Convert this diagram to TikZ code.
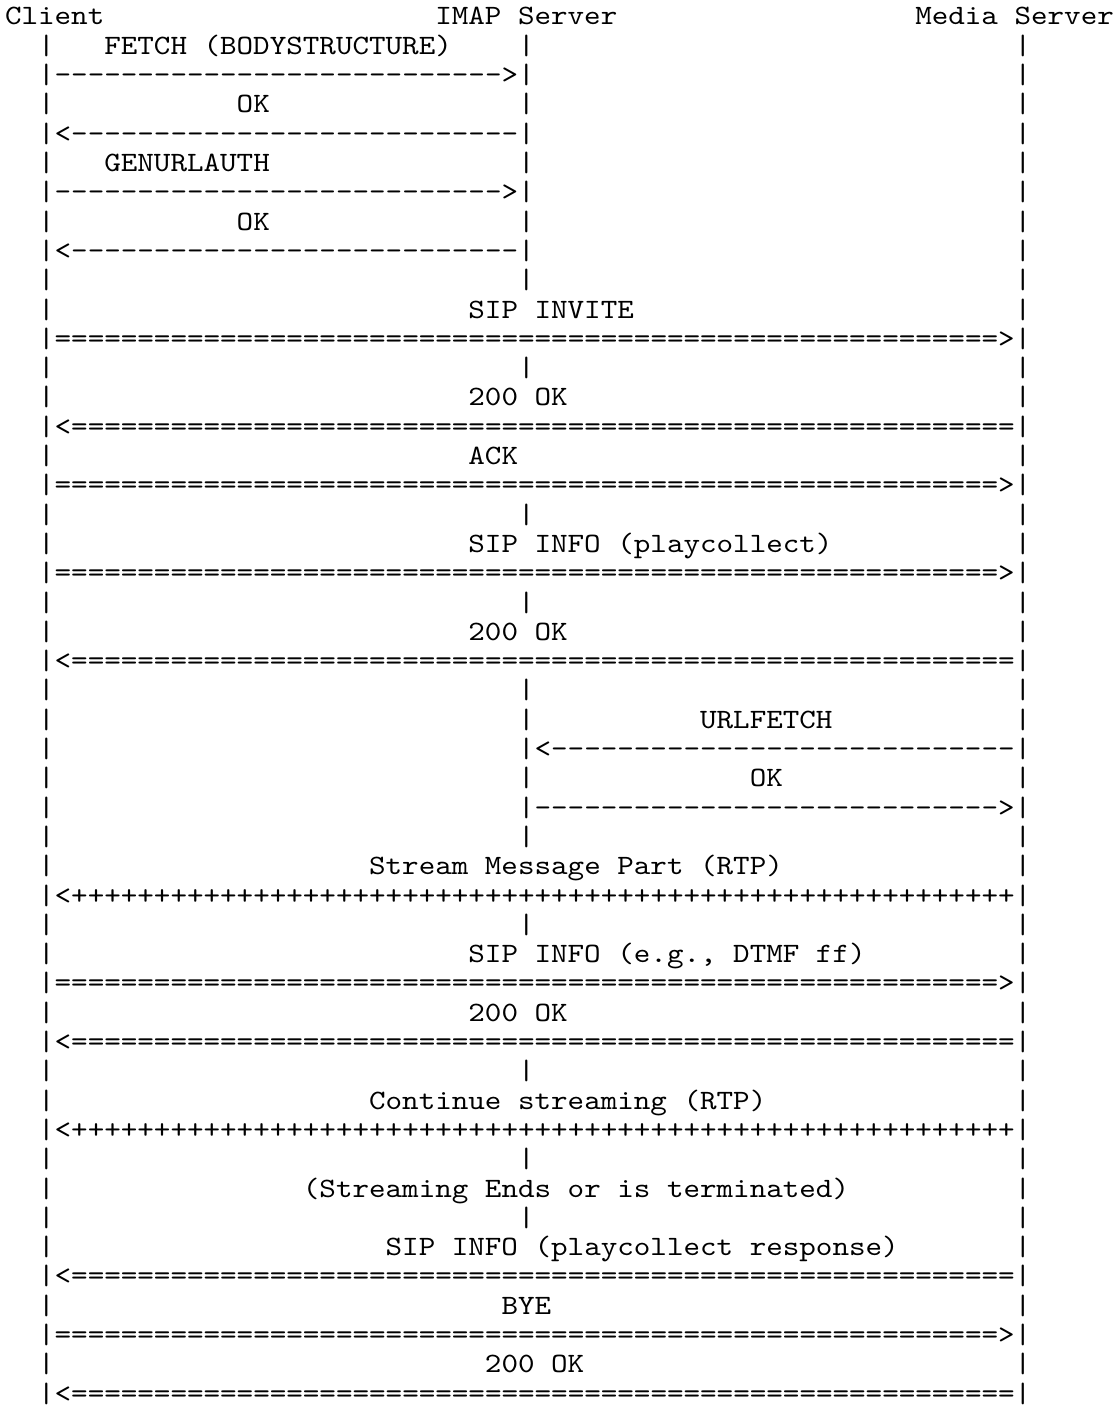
\documentclass[tikz,border=0pt]{standalone}
\usepackage{fontspec}
\setmonofont{lmmono10-regular.otf}[FakeStretch=1.126]
\usepackage{tikz}

%% repeat a character n times
\newcommand\dupl[2]{\ifnum#1>0 #2\expandafter\dupl\expandafter{\the\numexpr#1-1\relax}{#2}\fi}

\def\xo{5}
\def\cw{16.55}
\def\yo{25}
\def\lh{29.3}

\tikzset{
  cell/.style={font=\ttfamily\fontsize{14pt}{16pt}\selectfont, anchor=base west,
    inner sep=0pt, outer sep=0pt, text=black},
}

\begin{document}
\begin{tikzpicture}[x=0.5pt, y=-0.5pt]

  \fill[white] (0,0) rectangle (1116,1407);

  %% Header row
  \foreach \cc/\nm/\txt in {0/client/Client, 26/imap/{IMAP Server}, 55/media/{Media Server}} {
    \node[cell] (hd-\nm) at ({\xo+\cc*\cw},\yo) {\txt};
  }

  %% Lifelines, one bar per text row
  \foreach \rw in {1,...,47} {
    \node[cell] (cl-\rw) at ({\xo+2*\cw},{\yo+\rw*\lh}) {|};
    \node[cell] (ms-\rw) at ({\xo+61*\cw},{\yo+\rw*\lh}) {|};
  }
  \foreach \rw in {1,...,9,12,17,20,23,24,25,26,27,28,31,36,39,41} {
    \node[cell] (im-\rw) at ({\xo+31*\cw},{\yo+\rw*\lh}) {|};
  }

  %% Message labels
  \foreach \rw/\cc/\txt in {
    1/6/{FETCH (BODYSTRUCTURE)},
    3/14/OK,
    5/6/GENURLAUTH,
    7/14/OK,
    10/28/{SIP INVITE},
    13/28/{200 OK},
    15/28/ACK,
    18/28/{SIP INFO (playcollect)},
    21/28/{200 OK},
    24/42/URLFETCH,
    26/45/OK,
    29/22/{Stream Message Part (RTP)},
    32/28/{SIP INFO (e.g., DTMF ff)},
    34/28/{200 OK},
    37/22/{Continue streaming (RTP)},
    40/18/{(Streaming Ends or is terminated)},
    42/23/{SIP INFO (playcollect response)},
    44/30/BYE,
    46/29/{200 OK}
  } {
    \node[cell] (lbl-\rw) at ({\xo+\cc*\cw},{\yo+\rw*\lh}) {\txt};
  }

  %% Arrows, set from the bar they start at
  \foreach \rw/\src/\txt in {
    2/cl/{\dupl{27}{-}>},
    4/cl/{<\dupl{27}{-}},
    6/cl/{\dupl{27}{-}>},
    8/cl/{<\dupl{27}{-}},
    11/cl/{\dupl{57}{=}>},
    14/cl/{<\dupl{57}{=}},
    16/cl/{\dupl{57}{=}>},
    19/cl/{\dupl{57}{=}>},
    22/cl/{<\dupl{57}{=}},
    25/im/{<\dupl{28}{-}},
    27/im/{\dupl{28}{-}>},
    30/cl/{<\dupl{57}{+}},
    33/cl/{\dupl{57}{=}>},
    35/cl/{<\dupl{57}{=}},
    38/cl/{<\dupl{57}{+}},
    43/cl/{<\dupl{57}{=}},
    45/cl/{\dupl{57}{=}>},
    47/cl/{<\dupl{57}{=}}
  } {
    \node[cell] (arr-\rw) at (\src-\rw.base east) {\txt};
  }

\end{tikzpicture}
\end{document}
